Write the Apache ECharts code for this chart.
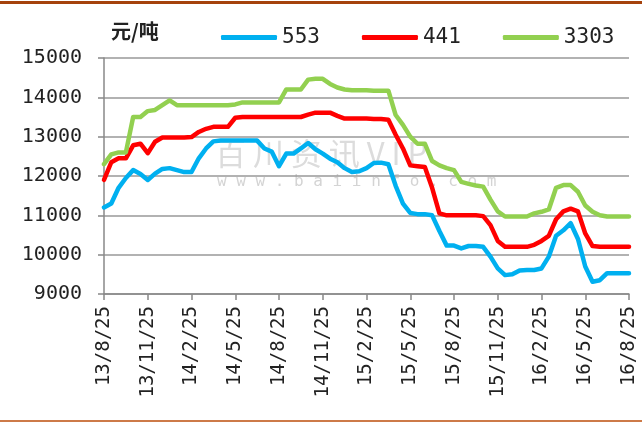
<!DOCTYPE html>
<html>
<head>
<meta charset="utf-8">
<script src="https://cdn.jsdelivr.net/npm/echarts@6/dist/echarts.min.js"></script>
<style>
  html, body { margin: 0; padding: 0; background: #fff; }
  #chart { width: 642px; height: 423px; }
</style>
</head>
<body>
<div id="chart"></div>
<script>
// months since 13/8/25, half-month steps
const months = [
  0, 0.5, 1, 1.5, 2, 2.5, 3, 3.5, 4, 4.5, 5, 5.5, 6, 6.5, 7, 7.5, 8, 8.5,
  9, 9.5, 10, 10.5, 11, 11.5, 12, 12.5, 13, 13.5, 14, 14.5, 15, 15.5, 16, 16.5, 17, 17.5,
  18, 18.5, 19, 19.5, 20, 20.5, 21, 21.5, 22, 22.5, 23, 23.5, 24, 24.5, 25, 25.5, 26, 26.5,
  27, 27.5, 28, 28.5, 29, 29.5, 30, 30.5, 31, 31.5, 32, 32.5, 33, 33.5, 34, 34.5, 35, 35.5, 36
]
const s553 = [
  11200, 11300, 11700, 11950, 12150, 12050, 11900, 12060, 12180, 12200, 12150, 12100, 12100, 12450, 12700, 12880, 12900, 12900,
  12900, 12900, 12900, 12900, 12700, 12620, 12250, 12570, 12570, 12700, 12840, 12680, 12570, 12440, 12350, 12200, 12100, 12120,
  12200, 12330, 12340, 12300, 11750, 11300, 11060, 11030, 11030, 11000, 10600, 10230, 10230, 10160, 10220, 10220, 10200, 9950,
  9650, 9480, 9500, 9600, 9610, 9610, 9650, 9950, 10480, 10620, 10800, 10400, 9700, 9310, 9350, 9530, 9530, 9530, 9530
]
const s441 = [
  11900, 12350, 12450, 12450, 12780, 12820, 12580, 12870, 12980, 12980, 12980, 12980, 12990, 13120, 13200, 13250, 13250, 13250,
  13480, 13500, 13500, 13500, 13500, 13500, 13500, 13500, 13500, 13500, 13560, 13610, 13610, 13610, 13530, 13460, 13460, 13460,
  13460, 13450, 13450, 13430, 13050, 12700, 12270, 12250, 12230, 11700, 11050, 11000, 11000, 11000, 11000, 11000, 10980, 10750,
  10350, 10200, 10200, 10200, 10200, 10250, 10350, 10480, 10900, 11100, 11170, 11100, 10540, 10220, 10200, 10200, 10200, 10200, 10200
]
const s3303 = [
  12300, 12550, 12600, 12600, 13500, 13500, 13650, 13680, 13800, 13920, 13800, 13800, 13800, 13800, 13800, 13800, 13800, 13800,
  13820, 13870, 13870, 13870, 13870, 13870, 13870, 14200, 14200, 14200, 14450, 14470, 14470, 14340, 14250, 14200, 14180, 14180,
  14180, 14170, 14170, 14170, 13550, 13300, 13000, 12820, 12820, 12380, 12270, 12200, 12150, 11850, 11800, 11760, 11730, 11400,
  11100, 10970, 10970, 10970, 10970, 11050, 11090, 11150, 11700, 11770, 11770, 11600, 11250, 11090, 11000, 10970, 10970, 10970, 10970
]
const seriesNames = ['553', '441', '3303']
const seriesColors = ['#00b0f0', '#ff0000', '#92d050']

function monthLabel(m) {
  const t = 7 + m
  const year = 13 + Math.floor(t / 12)
  const month = (t % 12) + 1
  return year + '/' + month + '/25'
}

const chart = echarts.init(document.getElementById('chart'))
const allSeries = [s553, s441, s3303]

const option = {
  animation: false,
  backgroundColor: '#fff',
  title: {
    text: '元/吨',
    left: 106,
    top: 16,
    textStyle: { fontFamily: 'Noto Sans CJK SC', fontSize: 20, fontWeight: 'bold', color: '#222' }
  },
  legend: {
    left: 216,
    top: 22,
    itemWidth: 56,
    itemHeight: 5,
    itemGap: 42,
    icon: 'roundRect',
    textStyle: { fontFamily: 'DejaVu Sans Mono', fontSize: 21, color: '#222' },
    data: seriesNames
  },
  grid: { left: 104, right: 13, top: 58, bottom: 129, containLabel: false },
  xAxis: {
    type: 'value',
    min: 0,
    max: 36,
    interval: 3,
    axisLine: { lineStyle: { color: '#888', width: 1.5 } },
    axisTick: { show: true, length: 6, lineStyle: { color: '#888', width: 1.5 } },
    splitLine: { show: false },
    axisLabel: {
      rotate: 90,
      margin: 12,
      fontFamily: 'DejaVu Sans Mono',
      fontSize: 19,
      color: '#222',
      formatter: monthLabel
    }
  },
  yAxis: {
    type: 'value',
    min: 9000,
    max: 15000,
    interval: 1000,
    axisLine: { show: true, lineStyle: { color: '#888', width: 1.5 } },
    axisTick: { show: true, length: 6, lineStyle: { color: '#888', width: 1.5 } },
    splitLine: { lineStyle: { color: '#999', width: 1.5 } },
    axisLabel: {
      margin: 22,
      fontFamily: 'DejaVu Sans Mono',
      fontSize: 20,
      color: '#222',
      formatter: (v) => String(v)
    }
  },
  graphic: [
    { type: 'rect', left: 0, top: 1, shape: { width: 642, height: 3 }, style: { fill: '#a5420c' } },
    { type: 'rect', left: 0, top: 420, shape: { width: 642, height: 2 }, style: { fill: '#cd7a48' } },
    {
      type: 'text', left: 215, top: 138, z: -1,
      style: { text: '百 川 资 讯 V I P', fontFamily: 'Noto Sans CJK SC', fontSize: 31, fill: '#dcdcdc' }
    },
    {
      type: 'text', left: 217, top: 174, z: -1,
      style: { text: 'w w w . b a i i n f o . c o m', fontFamily: 'DejaVu Sans Mono', fontSize: 16, fill: '#d4d4d4' }
    }
  ],
  series: seriesNames.map((name, i) => ({
    name: name,
    type: 'line',
    showSymbol: false,
    symbol: 'none',
    color: seriesColors[i],
    lineStyle: { width: 4.5, color: seriesColors[i], join: 'round', cap: 'round' },
    data: months.map((m, j) => [m, allSeries[i][j]])
  }))
}
chart.setOption(option)
</script>
</body>
</html>
